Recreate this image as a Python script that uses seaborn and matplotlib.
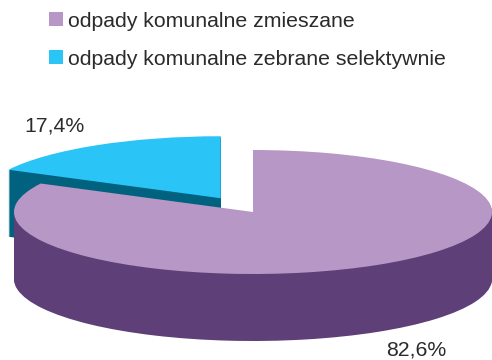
import matplotlib
matplotlib.use("Agg")
import matplotlib.pyplot as plt
from matplotlib.patches import Patch
import seaborn as sns

categories = ["odpady komunalne zmieszane", "odpady komunalne zebrane selektywnie"]
values = [82.6, 17.4]
value_labels = ["82,6%", "17,4%"]
top_colors = ["#B797C5", "#2BC4F6"]
side_colors = ["#5E3F78", "#00627F"]
text_color = "#2B2B2B"

sns.set_theme(style="white")
plt.rcParams["font.family"] = ["Liberation Sans", "DejaVu Sans"]

W, H = 492, 360
fig = plt.figure(figsize=(W / 100, H / 100), dpi=100, facecolor="white")
ax = fig.add_axes([0, 0, 1, 1])

radius = 239
squash = radius / 62.0          # data units per pixel vertically
cx = 253
cy = (H - 212) * squash
depth_px = 67
explode = [0, 0.26 * radius]    # pie takes the pull-out in data units here
font_size = 15.35


def draw(offset_px, colors, base_z):
    wedges, _ = ax.pie(values, colors=colors, radius=radius, explode=explode,
                       center=(cx, cy - offset_px * squash), startangle=90,
                       counterclock=False)
    # blue piece sits behind the purple piece
    wedges[1].set_zorder(base_z)
    wedges[0].set_zorder(base_z + 2)
    for w in wedges:
        w.set_linewidth(0)


for d in range(depth_px, 0, -1):
    draw(d, side_colors, 1)
draw(0, top_colors, 2)

ax.set_aspect("auto")
ax.set_xlim(0, W)
ax.set_ylim(0, H * squash)
ax.axis("off")

handles = [Patch(facecolor=c, edgecolor="none") for c in top_colors]
ax.legend(handles, categories, loc="upper left", bbox_to_anchor=(39.5 / W, 1 - 2 / H),
          frameon=False, fontsize=font_size, labelcolor=text_color, handlelength=0.66,
          handleheight=0.66, handletextpad=0.235, labelspacing=0.89,
          borderpad=0.45, borderaxespad=0)

ax.text(386 / W, 1 - 350 / H, value_labels[0], transform=ax.transAxes, fontsize=font_size,
        color=text_color, ha="left", va="center")
ax.text(24 / W, 1 - 126 / H, value_labels[1], transform=ax.transAxes, fontsize=font_size,
        color=text_color, ha="left", va="center")

fig.savefig("out.png", dpi=100, facecolor="white")
